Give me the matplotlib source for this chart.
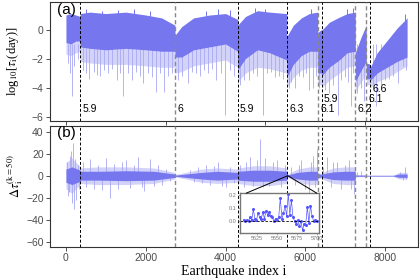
import matplotlib
matplotlib.use("Agg")
import matplotlib.pyplot as plt
from matplotlib.patches import ConnectionPatch

plt.rcParams["font.family"] = ["Liberation Sans", "DejaVu Sans"]
plt.rcParams["mathtext.fontset"] = "stix"

# earthquakes (index, magnitude) and label heights in panel (a)
EQ_X = [358, 2732, 4302, 5531, 6308, 6408, 7251, 7526, 7627]
EQ_MAG = ["5.9", "6", "5.9", "6.3", "6.1", "5.9", "6.2", "6.1", "6.6"]
EQ_LABEL_Y = [-5.5, -5.5, -5.5, -5.5, -5.5, -4.8, -5.5, -4.8, -4.1]
EQ_GRAY = [False, True, False, False, True, False, True, True, False]

# panel (a): envelope of log10 tau
A_X = [0, 120, 250, 357,
       359, 600, 1000, 1500, 2000, 2400, 2731,
       2733, 2900, 3200, 3600, 4000, 4301,
       4303, 4500, 4800, 5100, 5530,
       5532, 5700, 5900, 6100, 6307,
       6309, 6407,
       6409, 6600, 6850, 7050, 7250,
       7252, 7400, 7525,
       7527, 7626,
       7628, 7800, 8050, 8300, 8550]
A_HI = [1.0, 1.1, 1.0, 0.9,
        1.1, 1.2, 1.1, 1.2, 1.0, 0.8, 0.3,
        -0.4, 0.2, 0.8, 1.0, 1.1, 0.7,
        0.3, 0.9, 1.3, 1.2, 1.1,
        -0.5, 0.3, 0.8, 1.1, 1.2,
        -0.2, 0.0,
        -0.05, 0.5, 0.85, 1.1, 1.2,
        -1.6, -0.5, 0.3,
        -2.3, -2.4,
        -2.6, -1.6, -0.75, 0.1, 0.8]
A_LO = [-0.9, -1.0, -0.8, -0.8,
        -1.2, -1.3, -1.4, -1.3, -1.4, -1.5, -1.5,
        -1.9, -1.9, -1.4, -1.2, -1.0, -1.5,
        -2.8, -2.0, -1.4, -1.6, -2.1,
        -3.3, -2.4, -1.8, -1.5, -1.5,
        -3.0, -3.0,
        -3.2, -2.6, -2.1, -1.6, -1.5,
        -3.6, -2.8, -2.2,
        -3.4, -3.4,
        -3.5, -3.0, -2.6, -2.2, -1.9]
A_FAINT = [-1.7, -1.8, -1.6, -1.5,
           -2.2, -2.3, -2.4, -2.4, -2.5, -2.6, -2.6,
           -3.0, -2.9, -2.5, -2.3, -2.1, -2.6,
           -3.6, -3.0, -2.6, -2.7, -3.0,
           -4.0, -3.3, -2.8, -2.6, -2.6,
           -3.8, -3.8,
           -4.0, -3.5, -3.0, -2.6, -2.5,
           -4.2, -3.6, -3.0,
           -3.8, -3.8,
           -4.0, -3.6, -3.3, -2.9, -2.5]
# visible downward streaks (index, lowest value)
A_SPIKE_X = [40, 90, 150, 210, 300,
             420, 500, 580, 700, 780, 850, 950, 1050, 1150, 1280, 1350, 1430,
             1550, 1660, 1760, 1850, 1920, 2050, 2150, 2250, 2350, 2450, 2550,
             2650,
             2800, 2900, 3050, 3150, 3250, 3350, 3450, 3550, 3650, 3770, 3880,
             3975, 4100, 4200,
             4350, 4450, 4575, 4700, 4800, 4930, 5050, 5150, 5240, 5350, 5450,
             5580, 5650, 5750, 5850, 5950, 6020, 6090, 6180, 6260,
             6350,
             6480, 6600, 6700, 6810, 6900, 7000, 7080, 7140, 7200,
             7300, 7400, 7480,
             7700, 7780, 7900, 8000, 8100, 8200, 8330, 8450, 8520]
A_SPIKE_Y = [-2.3, -3.0, -4.6, -2.5, -2.0,
             -2.8, -3.0, -3.4, -2.9, -3.1, -3.2, -2.8, -3.0, -2.7, -3.5, -3.0, -4.6,
             -3.0, -3.5, -2.9, -3.2, -3.7, -3.0, -3.3, -4.3, -3.0, -4.3, -3.2,
             -3.0,
             -3.5, -3.2, -3.7, -2.9, -3.0, -3.2, -2.8, -3.0, -2.7, -3.5, -3.0,
             -5.9, -2.8, -3.2,
             -3.8, -3.5, -3.5, -3.0, -3.2, -5.9, -3.0, -2.9, -3.3, -3.2, -3.4,
             -4.0, -3.6, -4.0, -3.2, -3.3, -3.0, -4.2, -4.0, -3.2,
             -4.0,
             -4.2, -4.4, -3.8, -5.9, -3.5, -3.3, -3.6, -5.3, -3.0,
             -4.4, -4.0, -4.9,
             -4.2, -5.3, -3.8, -3.5, -3.4, -3.2, -3.7, -2.5, -2.8]
# upward peaks above the dense band
A_TOP_X = [500, 900, 1300, 1700, 2100, 3500, 3800, 4100, 4750, 5000, 6150,
           7050, 7200, 8500]
A_TOP_Y = [1.4, 1.3, 1.35, 1.4, 1.3, 1.3, 1.4, 1.35, 1.5, 1.4, 1.4,
           1.4, 1.45, 1.1]

# panel (b): symmetric envelope of delta tau (k=50)
B_X = [0, 150, 357, 359, 800, 1500, 2200, 2731, 2733, 3000, 3400, 3800, 4301,
       4303, 4700, 5100, 5530, 5532, 5800, 6100, 6307, 6309, 6407, 6409, 6700,
       7000, 7250, 7252, 7525, 7527, 7626, 7628, 8200, 8350, 8550]
B_CORE = [6, 8, 5, 4, 4, 4.5, 4, 1.5, 0.5, 1.5, 3, 4, 3,
          4, 5, 5, 4, 0.5, 3, 4, 4, 2, 1, 1.5, 3.5,
          4, 4, 0.5, 0.5, 0.3, 0.3, 0.3, 0.3, 1.5, 1.5]
B_OUT = [12, 16, 8, 7, 8, 8, 7, 3, 1, 3, 6, 7, 6,
         7, 9, 9, 7, 1, 6, 8, 8, 3, 2, 3, 7,
         8, 8, 1, 1, 0.6, 0.6, 0.6, 0.6, 3, 3]
B_SPIKE_X = [30, 60, 80, 100, 120, 140, 170, 200, 230, 250, 300, 330,
             420, 500, 600, 700, 800, 900, 1000, 1100, 1200, 1300, 1400, 1500,
             1600, 1700, 1800, 1900, 1950, 2100, 2200, 2300, 2400, 2500, 2600,
             3100, 3200, 3300, 3400, 3500, 3600, 3700, 3800, 3900, 4000, 4100,
             4200,
             4350, 4450, 4500, 4600, 4700, 4800, 4860, 4950, 5000, 5100, 5200,
             5300, 5400, 5480,
             5650, 5750, 5850, 5900, 6000, 6100, 6150, 6200, 6250, 6280,
             6450, 6550, 6650, 6700, 6800, 6900, 7000, 7100, 7150, 7220,
             7300, 7400, 7500,
             8380, 8450, 8500, 8530]
B_SPIKE_Y = [12, -18, -15, 18, 22, -25, 30, -30, 15, -22, 10, -12,
             12, -10, 15, -12, 10, -13, 16, -20, 11, -12, 12, 14,
             -11, 10, 17, -10, -14, 15, -9, 10, -8, 6, -5,
             5, -6, 8, -7, 10, -8, 9, 12, -9, -10, 8,
             -7,
             10, -10, 12, 17, -9, 14, 33, -10, 16, -9, 12,
             14, -10, 10,
             8, -8, 10, 14, -12, -17, 12, 18, -10, 24,
             8, 17, -10, 12, 12, -12, 10, 14, -12, -17,
             3, 4, -2,
             3, -4, 8, -3]

# inset: zoom of delta tau after the M6.3 event
IN_X = [5608, 5610, 5612, 5614, 5616, 5618, 5620, 5622, 5624, 5626, 5628, 5630,
        5632, 5634, 5636, 5638, 5640, 5642, 5644, 5646, 5648, 5650, 5652, 5654,
        5656, 5658, 5660, 5662, 5664, 5666, 5668, 5670, 5672, 5674, 5676, 5678,
        5680, 5682, 5684, 5686, 5688, 5690, 5692, 5694, 5696, 5698, 5700]
IN_Y = [0.01, 0.0, 0.01, 0.0, 0.03, 0.01, 0.09, 0.02, 0.01, 0.06, 0.03, 0.02,
        0.07, 0.02, 0.08, 0.05, 0.07, 0.04, 0.03, 0.0, 0.02, 0.01, 0.03, 0.18,
        0.02, 0.06, 0.12, 0.04, 0.21, 0.05, 0.16, 0.03, 0.0, -0.02, 0.01, -0.04,
        0.0, -0.07, -0.02, -0.03, 0.11, -0.01, 0.12, 0.04, 0.0, 0.01, 0.0]

CORE = "#7676ef"
FAINT = "#d3d3fa"
SPIKE = "#a8a8f4"
XLIM = (-400, 8820)

fig = plt.figure(figsize=(4.2, 2.8), dpi=100)
ax_a = fig.add_axes([0.119, 0.568, 0.876, 0.425])
ax_b = fig.add_axes([0.119, 0.118, 0.876, 0.432])


def style(ax):
    for s in ax.spines.values():
        s.set_color("#333333")
        s.set_linewidth(0.8)
    ax.tick_params(direction="out", length=3, width=0.6, color="#333333",
                   labelcolor="#4d4d4d", labelsize=7.5, pad=1.5)
    ax.set_xlim(*XLIM)


def dashed_quakes(ax):
    for x, g in zip(EQ_X, EQ_GRAY):
        ax.axvline(x, color="#888888" if g else "black", ls=(0, (3, 2)),
                   lw=1.0 if g else 0.7, zorder=3)


# (a)
ax_a.fill_between(A_X, A_FAINT, A_LO, color=FAINT, lw=0, zorder=1)
ax_a.vlines(A_SPIKE_X, -1.0, A_SPIKE_Y, color=SPIKE, lw=0.6, zorder=1.5)
ax_a.fill_between(A_X, A_LO, A_HI, color=CORE, lw=0, zorder=2)
ax_a.vlines(A_TOP_X, 0.5, A_TOP_Y, color=CORE, lw=0.7, zorder=2)
dashed_quakes(ax_a)
for x, m, y in zip(EQ_X, EQ_MAG, EQ_LABEL_Y):
    ax_a.text(x + 60, y, m, fontsize=7.5, va="center", ha="left", zorder=4)
ax_a.set_ylim(-6.3, 1.9)
ax_a.set_yticks([-6, -4, -2, 0])
ax_a.set_xticks([0, 2500, 5000, 7500])
ax_a.set_xticklabels([])
style(ax_a)
ax_a.text(0.02, 0.99, "(a)", transform=ax_a.transAxes, fontsize=11,
          va="top", ha="left", zorder=5)
fig.text(0.03, 0.78, r"log$_{10}$[$\tau_{\rm i}$(day)]", rotation=90,
         ha="center", va="center", fontsize=9, family="Liberation Serif")

# (b)
neg_out = [-v for v in B_OUT]
neg_core = [-v for v in B_CORE]
ax_b.fill_between(B_X, neg_out, B_OUT, color=FAINT, lw=0, zorder=1)
ax_b.vlines(B_SPIKE_X, 0, B_SPIKE_Y, color=SPIKE, lw=0.6, zorder=1.5)
ax_b.fill_between(B_X, neg_core, B_CORE, color=CORE, lw=0, zorder=2)
dashed_quakes(ax_b)
ax_b.set_ylim(-64.5, 45)
ax_b.set_yticks([-60, -40, -20, 0, 20, 40])
ax_b.set_xticks([0, 2000, 4000, 6000, 8000])
style(ax_b)
ax_b.text(0.02, 1.0, "(b)", transform=ax_b.transAxes, fontsize=11,
          va="top", ha="left", zorder=5)
ax_b.set_xlabel("Earthquake index i", fontsize=10, family="Liberation Serif",
                labelpad=1)
fig.text(0.035, 0.37, r"$\Delta\tau_{\rm i}^{(\rm k=50)}$", rotation=90,
         ha="center", va="center", fontsize=9)

# inset
ax_in = fig.add_axes([0.571, 0.169, 0.189, 0.141])
ax_in.plot(IN_X, IN_Y, color="#5555ff", lw=0.5, marker="o", ms=1.2)
ax_in.axhline(0, color="black", ls=(0, (3, 2)), lw=0.6)
ax_in.set_xlim(5603, 5703)
ax_in.set_ylim(-0.088, 0.215)
ax_in.set_xticks([5625, 5650, 5675, 5700])
ax_in.set_yticks([0.0, 0.1, 0.2])
ax_in.set_yticklabels(["0.0", "0.1", "0.2"])
for s in ax_in.spines.values():
    s.set_color("#777777")
    s.set_linewidth(1.0)
ax_in.tick_params(length=1.5, width=0.4, color="#777777", labelcolor="#777777",
                  labelsize=4, pad=1)
for corner in [(0.08, 1.0), (0.97, 1.0)]:
    con = ConnectionPatch(xyA=(5560, 0), coordsA=ax_b.transData,
                          xyB=corner, coordsB=ax_in.transAxes,
                          color="black", lw=0.7)
    fig.add_artist(con)

fig.savefig("out.png", dpi=100)
